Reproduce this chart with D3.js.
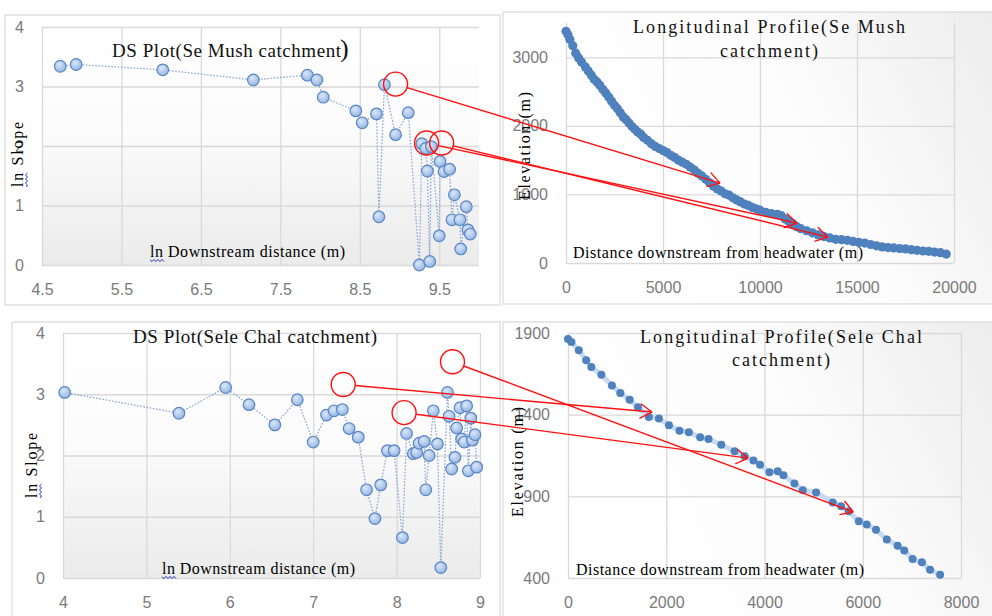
<!DOCTYPE html>
<html><head><meta charset="utf-8">
<script src="https://cdn.jsdelivr.net/npm/d3@7"></script>
<style>body{margin:0;background:#fff}</style>
</head><body>
<svg id="c" width="992" height="616" xmlns="http://www.w3.org/2000/svg"></svg>
<script>
// ---------- DATA ----------
// DS plot, Se Mush catchment (ln downstream distance, ln slope)
const seMushLnDist  = [4.73,4.93,6.02,7.16,7.84,7.96,8.04,8.45,8.53,8.71,8.74,8.81,8.95,9.11,9.25,9.28,9.33,9.35,9.38,9.40,9.50,9.51,9.56,9.63,9.66,9.69,9.76,9.77,9.84,9.86,9.89];
const seMushLnSlope = [3.34,3.37,3.28,3.11,3.19,3.11,2.82,2.59,2.39,2.54,0.81,3.03,2.19,2.56,0.00,2.04,1.96,1.58,0.06,1.99,0.49,1.74,1.57,1.61,0.76,1.18,0.76,0.27,0.98,0.59,0.52];
// Longitudinal profile, Se Mush catchment (distance m, elevation m)
const seMushDist = [0,100,200,350,500,650,800,1000,1150,1300,1450,1600,1750,1900,2050,2200,2350,2500,2650,2800,2950,3100,3250,3400,3550,3700,3850,4000,4200,4400,4600,4800,5000,5200,5400,5600,5800,6000,6200,6400,6600,6800,7000,7200,7400,7600,7800,8000,8200,8400,8600,8800,9000,9200,9400,9600,9800,10000,10300,10600,10900,11100,11300,11500,11700,11900,12100,12400,12700,13000,13300,13600,13900,14200,14500,14800,15100,15400,15700,16000,16300,16600,16900,17200,17500,17800,18100,18400,18700,19000,19300,19600];
const seMushElev = [3380,3330,3260,3170,3060,2990,2930,2860,2800,2740,2680,2640,2590,2530,2480,2420,2360,2300,2250,2190,2130,2090,2040,1990,1950,1910,1880,1830,1790,1740,1700,1670,1640,1610,1570,1540,1500,1470,1440,1400,1360,1310,1270,1220,1170,1120,1080,1050,1010,990,950,920,890,860,840,810,790,770,740,720,710,690,640,600,570,530,500,470,440,410,385,365,345,340,330,315,300,290,270,250,235,225,220,210,205,195,185,175,170,160,150,130];
// DS plot, Sele Chal catchment
const seleLnDist  = [4.02,5.39,5.95,6.23,6.54,6.81,7.00,7.16,7.25,7.35,7.43,7.54,7.64,7.74,7.81,7.89,7.97,8.07,8.12,8.20,8.24,8.27,8.33,8.35,8.39,8.44,8.49,8.53,8.61,8.63,8.66,8.70,8.72,8.76,8.78,8.81,8.84,8.86,8.89,8.91,8.94,8.96];
const seleLnSlope = [3.03,2.69,3.11,2.83,2.50,2.91,2.22,2.66,2.73,2.75,2.44,2.30,1.44,0.97,1.52,2.08,2.08,0.66,2.36,2.03,2.05,2.20,2.23,1.44,2.00,2.73,2.19,0.17,3.03,2.64,1.78,1.97,2.45,2.78,2.27,2.22,2.81,1.75,2.61,2.25,2.34,1.81];
// Longitudinal profile, Sele Chal catchment
const seleDist = [0,70,220,370,475,680,895,1065,1255,1425,1645,1850,2055,2270,2460,2690,2860,3120,3390,3595,3775,3910,4100,4270,4385,4610,4780,5050,5390,5560,5715,5920,6080,6270,6490,6710,6845,7015,7205,7370,7575];
const seleElev = [1863,1845,1794,1733,1692,1645,1578,1533,1492,1445,1386,1376,1335,1302,1292,1261,1251,1216,1176,1145,1120,1094,1047,1053,1029,978,937,924,863,839,808,747,727,696,635,598,569,516,496,451,420];

// Tick values
const dsTicksX1 = [4.5,5.5,6.5,7.5,8.5,9.5];
const dsTicksY  = [0,1,2,3,4];
const profTicksX1 = [0,5000,10000,15000,20000];
const profTicksY1 = [0,1000,2000,3000];
const dsTicksX3 = [4,5,6,7,8,9];
const profTicksX4 = [0,2000,4000,6000,8000];
const profTicksY4 = [400,900,1400,1900];

// Red annotations (data coordinates): circles on DS plots, arrow tips on profiles
const seMushCircles = [[8.95,3.04],[9.34,2.05],[9.53,2.05]];
const seMushTips    = [[7940,1165],[11900,582],[13490,378]];
const seleCircles   = [[7.36,3.16],[8.09,2.70],[8.67,3.53]];
const seleTips      = [[1710,1416],[3665,1134],[5805,804]];

// ---------- DRAW ----------
const svg = d3.select('#c');
const defs = svg.append('defs');
const lgV = defs.append('linearGradient').attr('id','gV').attr('x1',0).attr('y1',0).attr('x2',0).attr('y2',1);
lgV.append('stop').attr('offset','0%').attr('stop-color','#ffffff');
lgV.append('stop').attr('offset','45%').attr('stop-color','#fbfbfb');
lgV.append('stop').attr('offset','100%').attr('stop-color','#ebebeb');
const lgH = defs.append('linearGradient').attr('id','gH').attr('x1',0).attr('y1',0.3).attr('x2',1).attr('y2',0);
lgH.append('stop').attr('offset','0%').attr('stop-color','#ffffff');
lgH.append('stop').attr('offset','55%').attr('stop-color','#fcfcfc');
lgH.append('stop').attr('offset','100%').attr('stop-color','#ececec');
const rg = defs.append('radialGradient').attr('id','gDot').attr('cx','40%').attr('cy','35%').attr('r','65%');
rg.append('stop').attr('offset','0%').attr('stop-color','#dbe7f7');
rg.append('stop').attr('offset','100%').attr('stop-color','#94b6e4');

const SERIF = '"Liberation Serif","Times New Roman",serif';
const SANS = '"Liberation Sans",Arial,sans-serif';

function squiggle(g, x0, y0, len) {
  let d = `M${x0},${y0}`;
  for (let i = 1; i <= len/2; i++) d += `L${x0+i*2},${y0 + (i%2 ? 1.6 : -0.6)}`;
  g.append('path').attr('d', d).attr('fill','none').attr('stroke','#2a35c9').attr('stroke-width',1);
}

function drawPanel(p) {
  const g = svg.append('g');
  g.append('rect').attr('x',p.frame.x).attr('y',p.frame.y).attr('width',p.frame.w).attr('height',p.frame.h)
    .attr('fill', p.frameFill).attr('stroke','#d9d9d9').attr('stroke-width',1.2);
  const x = d3.scaleLinear().domain(p.xDomain).range([p.plot.l, p.plot.r]);
  const y = d3.scaleLinear().domain(p.yDomain).range([p.plot.b, p.plot.t]);
  g.append('rect').attr('x',p.plot.l).attr('y',p.plot.t).attr('width',p.plot.r-p.plot.l).attr('height',p.plot.b-p.plot.t)
    .attr('fill', p.plotFill);
  const ax = g.append('g').attr('transform',`translate(0,${p.plot.b})`)
    .call(d3.axisBottom(x).tickValues(p.xTicks).tickSizeInner(-(p.plot.b-p.plot.t)).tickSizeOuter(0).tickPadding(19).tickFormat(d=>String(d)));
  const ay = g.append('g').attr('transform',`translate(${p.plot.l},0)`)
    .call(d3.axisLeft(y).tickValues(p.yTicks).tickSizeInner(-(p.plot.r-p.plot.l)).tickSizeOuter(0).tickPadding(18).tickFormat(d=>String(d)));
  [ax, ay].forEach(a => {
    a.select('.domain').remove();
    a.attr('font-family', SANS).attr('font-size', 16);
    a.selectAll('line').attr('stroke','#d9d9d9').attr('stroke-width',1.3);
    a.selectAll('text').attr('fill','#7a7a7a');
  });
  // titles
  p.titles.forEach(t => {
    const tx = g.append('text').attr('x',t.x).attr('y',t.y).attr('font-family',SERIF).attr('font-size',t.size)
      .attr('fill','#111').attr('textLength',t.len).text(t.text);
  });
  // x-axis title
  g.append('text').attr('x',p.xTitle.x).attr('y',p.xTitle.y).attr('font-family',SERIF).attr('font-size',16)
    .attr('fill','#000').attr('textLength',p.xTitle.len).text(p.xTitle.text);
  if (p.xTitle.squig) squiggle(g, p.xTitle.x, p.xTitle.y+3, 15);
  // y-axis title (rotated)
  const yt = g.append('g').attr('transform',`translate(${p.yTitle.x},${p.yTitle.y}) rotate(-90)`);
  yt.append('text').attr('x',0).attr('y',0).attr('font-family',SERIF).attr('font-size',16).attr('fill','#000')
    .attr('textLength',p.yTitle.len).text(p.yTitle.text);
  if (p.yTitle.squig) squiggle(yt, 0, 3, 14);

  const data = p.xs.map((v,i)=>[v, p.ys[i]]);
  const line = d3.line().x(d=>x(d[0])).y(d=>y(d[1]));
  if (p.kind === 'ds') {
    g.append('path').attr('d', line(data)).attr('fill','none').attr('stroke','#8ea9d6')
      .attr('stroke-width',1.3).attr('stroke-dasharray','1.6,1.6');
    g.selectAll('circle.pt').data(data).join('circle').attr('class','pt')
      .attr('cx',d=>x(d[0])).attr('cy',d=>y(d[1])).attr('r',5.8)
      .attr('fill','url(#gDot)').attr('stroke','#5a86c4').attr('stroke-width',1.2);
  } else {
    g.append('path').attr('d', line(data)).attr('fill','none').attr('stroke','#c9daf0')
      .attr('stroke-width',p.lineW);
    g.selectAll('circle.pt').data(data).join('circle').attr('class','pt')
      .attr('cx',d=>x(d[0])).attr('cy',d=>y(d[1])).attr('r',p.dotR)
      .attr('fill','#4f81bd');
  }
  return {x, y};
}

const p1 = drawPanel({
  kind:'ds', frame:{x:5,y:15,w:495,h:290}, frameFill:'#ffffff', plotFill:'url(#gV)',
  plot:{l:42,t:27,r:479,b:265}, xDomain:[4.5,10], yDomain:[0,4], xTicks:dsTicksX1, yTicks:dsTicksY,
  titles:[{text:'DS Plot(Se Mush catchment', x:112, y:57, size:19, len:229}],
  xTitle:{text:'ln Downstream distance (m)', x:150, y:257, len:195, squig:true},
  yTitle:{text:'ln Slope', x:23, y:187, len:65, squig:true},
  xs:seMushLnDist, ys:seMushLnSlope
});
svg.append('text').attr('x',340).attr('y',57).attr('font-family',SERIF).attr('font-size',26).attr('fill','#111').text(')');

const p3 = drawPanel({
  kind:'ds', frame:{x:12,y:322,w:488,h:300}, frameFill:'#ffffff', plotFill:'url(#gV)',
  plot:{l:63,t:333,r:480,b:578}, xDomain:[4,9], yDomain:[0,4], xTicks:dsTicksX3, yTicks:dsTicksY,
  titles:[{text:'DS Plot(Sele Chal catchment)', x:133, y:343, size:19, len:244}],
  xTitle:{text:'ln Downstream distance (m)', x:162, y:574, len:193, squig:true},
  yTitle:{text:'ln Slope', x:37, y:498, len:65, squig:true},
  xs:seleLnDist, ys:seleLnSlope
});

const p2 = drawPanel({
  kind:'prof', frame:{x:503,y:12,w:495,h:292}, frameFill:'url(#gH)', plotFill:'none',
  plot:{l:566,t:23,r:954,b:263}, xDomain:[0,20000], yDomain:[0,3500], xTicks:profTicksX1, yTicks:profTicksY1,
  titles:[{text:'Longitudinal Profile(Se Mush', x:633, y:33, size:18, len:272},
          {text:'catchment)', x:720, y:57, size:18, len:98}],
  xTitle:{text:'Distance downstream from headwater (m)', x:573, y:258, len:290},
  yTitle:{text:'Elevation (m)', x:530, y:200, len:108},
  xs:seMushDist, ys:seMushElev, dotR:4.6, lineW:3
});

const p4 = drawPanel({
  kind:'prof', frame:{x:503,y:322,w:495,h:300}, frameFill:'url(#gH)', plotFill:'none',
  plot:{l:568,t:333,r:961,b:578}, xDomain:[0,8000], yDomain:[400,1900], xTicks:profTicksX4, yTicks:profTicksY4,
  titles:[{text:'Longitudinal Profile(Sele Chal', x:640, y:343, size:18, len:282},
          {text:'catchment)', x:732, y:366, size:18, len:98}],
  xTitle:{text:'Distance downstream from headwater (m)', x:576, y:575, len:288},
  yTitle:{text:'Elevation (m)', x:523, y:517, len:110},
  xs:seleDist, ys:seleElev, dotR:4, lineW:5
});

// ---------- red annotations ----------
const ann = svg.append('g').attr('fill','none').attr('stroke','#ff1010').attr('stroke-width',1.4);
function annotate(src, dst, circles, tips) {
  circles.forEach((c, i) => {
    const cx = src.x(c[0]), cy = src.y(c[1]), r = 12;
    ann.append('circle').attr('cx',cx).attr('cy',cy).attr('r',r);
    const tx = dst.x(tips[i][0]), ty = dst.y(tips[i][1]);
    const dx = tx-cx, dy = ty-cy, L = Math.hypot(dx,dy), ux = dx/L, uy = dy/L;
    const sx = cx + ux*r, sy = cy + uy*r;
    ann.append('line').attr('x1',sx).attr('y1',sy).attr('x2',tx).attr('y2',ty);
    const a = Math.atan2(dy,dx), bl = 14;
    [0.55,-0.55].forEach(da => {
      ann.append('line').attr('x1',tx).attr('y1',ty)
        .attr('x2',tx - bl*Math.cos(a+da)).attr('y2',ty - bl*Math.sin(a+da));
    });
  });
}
annotate(p1, p2, seMushCircles, seMushTips);
annotate(p3, p4, seleCircles, seleTips);
</script>
</body></html>
